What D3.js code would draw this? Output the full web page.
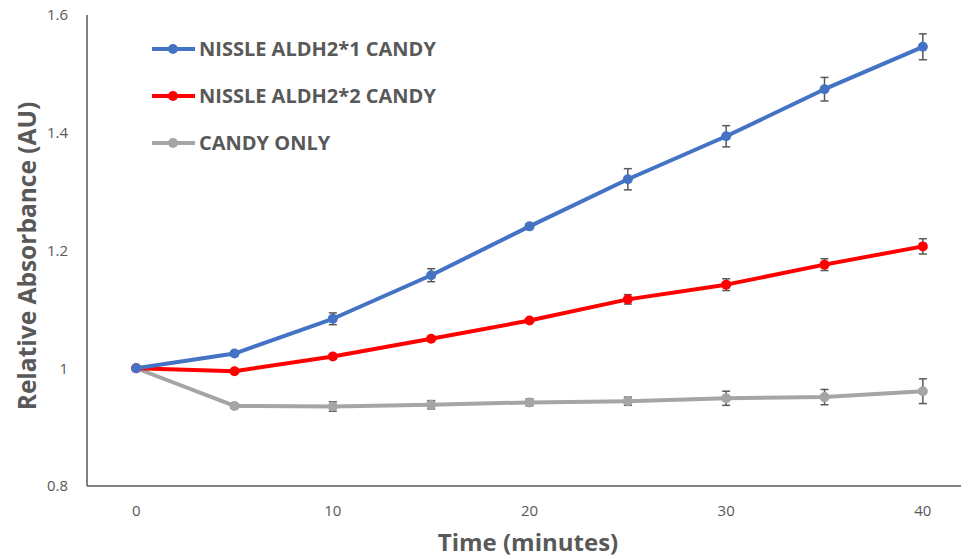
<!DOCTYPE html>
<html>
<head>
<meta charset="utf-8">
<script src="https://cdn.jsdelivr.net/npm/d3@7"></script>
<style>
  body { margin: 0; background: #fff; }
  text { font-family: "Open Sans", "Liberation Sans", sans-serif; }
</style>
</head>
<body>
<div class="chart"></div>
<script>
// data
const times = [0, 5, 10, 15, 20, 25, 30, 35, 40];
const seriesNames = ["NISSLE ALDH2*1 CANDY", "NISSLE ALDH2*2 CANDY", "CANDY ONLY"];
const seriesColors = ["#4472C4", "#FF0000", "#A5A5A5"];
const aldh1 = [1.0, 1.025, 1.084, 1.158, 1.241, 1.321, 1.394, 1.474, 1.546];
const aldh1Err = [0, 0.004, 0.01, 0.011, 0.004, 0.018, 0.018, 0.02, 0.022];
const aldh2 = [1.0, 0.995, 1.02, 1.05, 1.081, 1.117, 1.142, 1.176, 1.207];
const aldh2Err = [0, 0.003, 0.004, 0.004, 0.003, 0.008, 0.01, 0.01, 0.013];
const candy = [1.0, 0.936, 0.935, 0.938, 0.942, 0.944, 0.949, 0.951, 0.961];
const candyErr = [0, 0.004, 0.008, 0.007, 0.006, 0.007, 0.012, 0.013, 0.021];
const yTicks = [0.8, 1, 1.2, 1.4, 1.6];
const xTicks = [0, 10, 20, 30, 40];

const width = 961, height = 560;
const axisColor = "#595959";

const series = [
    {name: seriesNames[0], color: seriesColors[0], values: aldh1, err: aldh1Err},
    {name: seriesNames[1], color: seriesColors[1], values: aldh2, err: aldh2Err},
    {name: seriesNames[2], color: seriesColors[2], values: candy, err: candyErr}
];

const svg = d3.select(".chart").append("svg")
    .attr("width", width).attr("height", height);

// scales: x axis runs half a step past the first/last point, like excel
let x = d3.scaleLinear().domain([-2.5, 42.5]).range([87, 972]);
let y = d3.scaleLinear().domain([0.8, 1.6]).range([486, 15]);

// axis lines (no tick marks)
svg.append("line").attr("x1", x(-2.5)).attr("x2", width).attr("y1", y(0.8)).attr("y2", y(0.8))
    .attr("stroke", axisColor).attr("stroke-width", 1.5);
svg.append("line").attr("x1", x(-2.5)).attr("x2", x(-2.5)).attr("y1", y(0.8)).attr("y2", y(1.6))
    .attr("stroke", axisColor).attr("stroke-width", 1.5);

// tick labels
svg.append("g").selectAll("text").data(yTicks).enter().append("text")
    .attr("x", 68).attr("y", d => y(d)).attr("dy", "0.35em")
    .attr("text-anchor", "end").attr("font-size", "15px").attr("fill", axisColor)
    .text(d => d3.format("~g")(d));
svg.append("g").selectAll("text").data(xTicks).enter().append("text")
    .attr("x", d => x(d)).attr("y", 516)
    .attr("text-anchor", "middle").attr("font-size", "15px").attr("fill", axisColor)
    .text(d => d);

// axis titles
svg.append("text").attr("x", 528).attr("y", 551).attr("text-anchor", "middle")
    .attr("font-size", "24px").attr("font-weight", "bold").attr("fill", axisColor)
    .text("Time (minutes)");
svg.append("text").attr("transform", "translate(36,256) rotate(-90)").attr("text-anchor", "middle")
    .attr("font-size", "24.5px").attr("font-weight", "bold").attr("fill", axisColor)
    .text("Relative Absorbance (AU)");

// draw each series: line, error bars, markers
let line = d3.line().x((d, i) => x(times[i])).y(d => y(d));
series.slice().reverse().forEach(s => {
    let g = svg.append("g");
    g.append("path").datum(s.values).attr("d", line)
        .attr("fill", "none").attr("stroke", s.color).attr("stroke-width", 4).attr("stroke-linejoin", "round");
    let pts = s.values.map((v, i) => ({t: times[i], v: v, e: s.err[i]})).filter(d => d.e > 0);
    let eb = g.append("g").attr("stroke", axisColor).attr("stroke-width", 1.5);
    eb.selectAll(".vbar").data(pts).enter().append("line")
        .attr("x1", d => x(d.t)).attr("x2", d => x(d.t))
        .attr("y1", d => y(d.v + d.e)).attr("y2", d => y(d.v - d.e));
    eb.selectAll(".cap-top").data(pts).enter().append("line")
        .attr("x1", d => x(d.t) - 4).attr("x2", d => x(d.t) + 4)
        .attr("y1", d => y(d.v + d.e)).attr("y2", d => y(d.v + d.e));
    eb.selectAll(".cap-bot").data(pts).enter().append("line")
        .attr("x1", d => x(d.t) - 4).attr("x2", d => x(d.t) + 4)
        .attr("y1", d => y(d.v - d.e)).attr("y2", d => y(d.v - d.e));
    g.selectAll("circle").data(s.values).enter().append("circle")
        .attr("cx", (d, i) => x(times[i])).attr("cy", d => y(d)).attr("r", 5)
        .attr("fill", s.color);
});

// legend
let legend = svg.append("g");
series.forEach((s, i) => {
    let ly = 49 + i * 47;
    legend.append("line").attr("x1", 152).attr("x2", 195).attr("y1", ly).attr("y2", ly)
        .attr("stroke", s.color).attr("stroke-width", 4);
    legend.append("circle").attr("cx", 173).attr("cy", ly).attr("r", 5).attr("fill", s.color);
    legend.append("text").attr("x", 199).attr("y", ly).attr("dy", "0.36em")
        .attr("font-size", "20px").attr("font-weight", "bold").attr("fill", axisColor)
        .text(s.name);
});
</script>
</body>
</html>
